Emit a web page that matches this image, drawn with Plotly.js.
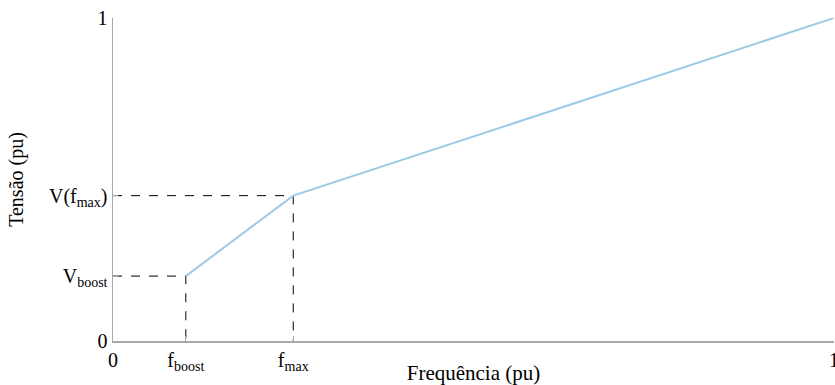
<!DOCTYPE html>
<html>
<head>
<meta charset="utf-8">
<script src="https://cdn.plot.ly/plotly-3.0.1.min.js"></script>
<style>html,body{margin:0;padding:0;background:#fff;}#chart{width:835px;height:385px;}</style>
</head>
<body>
<div id="chart"></div>
<script>
// Data
const fBoost = 0.101;
const fMax = 0.25;
const vBoost = 0.201;
const vFmax = 0.45;
const curveX = [fBoost, fMax, 1];
const curveY = [vBoost, vFmax, 1];
const xTickVals = [0, fBoost, fMax, 1];
const xTickText = ['0', 'f<sub>boost</sub>', 'f<sub>max</sub>', '1'];
const yTickVals = [0, vBoost, vFmax, 1];
const yTickText = ['0', 'V<sub>boost</sub>', 'V(f<sub>max</sub>)', '1'];

const dash = {color: '#000', width: 1, dash: 'dash'};
const traces = [
  {x: [0, fBoost, fBoost], y: [vBoost, vBoost, 0], mode: 'lines', line: dash, hoverinfo: 'skip'},
  {x: [0, fMax, fMax], y: [vFmax, vFmax, 0], mode: 'lines', line: dash, hoverinfo: 'skip'},
  {x: curveX, y: curveY, mode: 'lines', line: {color: 'rgb(155,202,230)', width: 2}}
];
const fam = 'Liberation Serif, Times New Roman, serif';
const layout = {
  width: 835, height: 385,
  margin: {l: 113, r: 1, t: 18, b: 44},
  showlegend: false,
  paper_bgcolor: '#fff', plot_bgcolor: '#fff',
  font: {family: fam, size: 18, color: '#000'},
  xaxis: {
    range: [0, 1], tickmode: 'array', tickvals: xTickVals, ticktext: xTickText,
    showgrid: false, zeroline: false, showline: true, linecolor: '#a8a8a8', linewidth: 1.5,
    ticks: 'inside', ticklen: 5, tickcolor: '#a8a8a8', ticklabeloverflow: 'allow',
    tickfont: {family: fam, size: 20, color: '#000'},
    title: {text: 'Frequência (pu)', font: {family: fam, size: 21, color: '#000'}, standoff: 0},
    automargin: false
  },
  yaxis: {
    range: [0, 1], tickmode: 'array', tickvals: yTickVals, ticktext: yTickText,
    showgrid: false, zeroline: false, showline: true, linecolor: '#a8a8a8', linewidth: 1.5,
    ticks: 'inside', ticklen: 5, tickcolor: '#a8a8a8', ticklabeloverflow: 'allow',
    tickfont: {family: fam, size: 20, color: '#000'},
    title: {text: 'Tensão (pu)', font: {family: fam, size: 20, color: '#000'}, standoff: 20},
    automargin: false
  }
};
Plotly.newPlot('chart', traces, layout, {displayModeBar: false, staticPlot: true});
</script>
</body>
</html>
